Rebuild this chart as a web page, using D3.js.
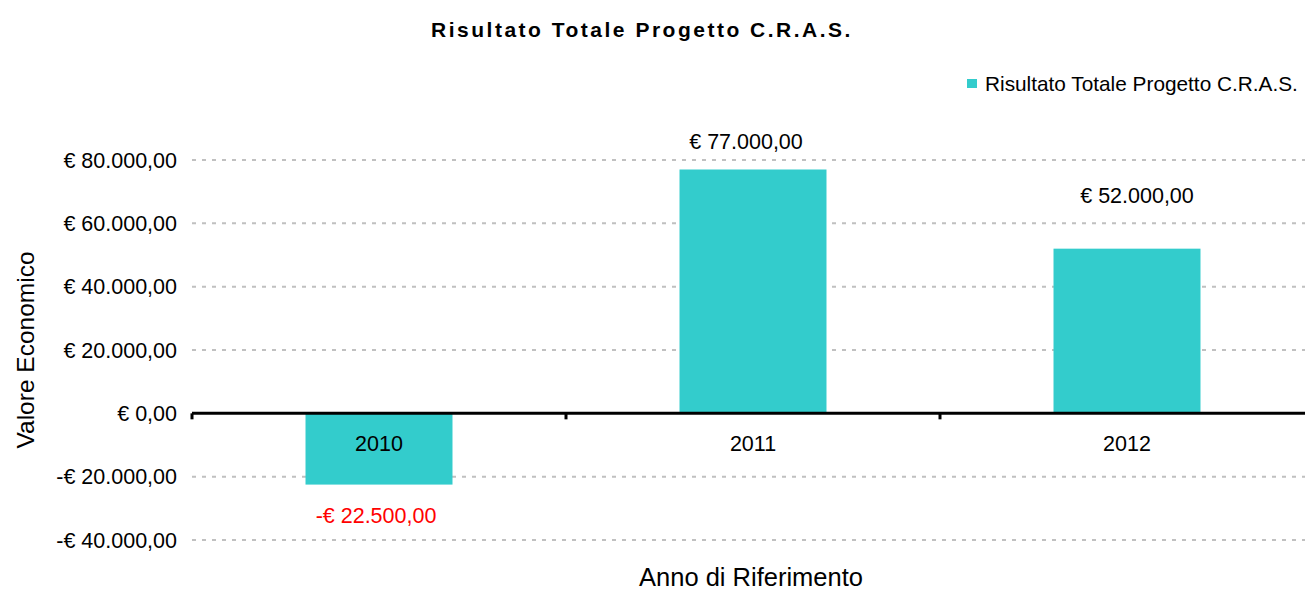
<!DOCTYPE html>
<html>
<head>
<meta charset="utf-8">
<script src="https://cdn.jsdelivr.net/npm/d3@7"></script>
<style>
  body { margin: 0; background: #fff; }
  svg { display: block; font-family: "Liberation Sans", Arial, sans-serif; }
</style>
</head>
<body>
<div id="chart"></div>
<script>
var years = ["2010", "2011", "2012"];
var risultato = [-22500, 77000, 52000];
var yTicks = [-40000, -20000, 0, 20000, 40000, 60000, 80000];

var width = 1305, height = 591;
var plotLeft = 192, plotRight = 1314;
var fill = "#33cccc";
var fontSize = 21.5;

var svg = d3.select("#chart").append("svg")
  .attr("width", width)
  .attr("height", height);

var x = d3.scaleBand()
  .domain(years)
  .range([plotLeft, plotRight])
  .padding(0);
var barW = x.bandwidth() * 0.393;

var y = d3.scaleLinear()
  .domain([-40000, 80000])
  .range([540, 160]);

// euro format, italian style
var it = d3.formatLocale({decimal: ",", thousands: ".", grouping: [3], currency: ["€ ", ""]});
var fmt = it.format(",.2f");
function euro(v) {
  return (v < 0 ? "-€ " : "€ ") + fmt(Math.abs(v));
}

// grid lines
svg.append("g").selectAll("line")
  .data(yTicks.filter(t => t != 0))
  .enter().append("line")
    .attr("x1", plotLeft)
    .attr("x2", plotRight)
    .attr("y1", d => y(d))
    .attr("y2", d => y(d))
    .attr("stroke", "#c0c0c0")
    .attr("stroke-width", 2)
    .attr("stroke-dasharray", "4,6");

// y tick labels
svg.append("g").selectAll("text")
  .data(yTicks)
  .enter().append("text")
    .attr("x", 177)
    .attr("y", d => y(d))
    .attr("dy", "0.35em")
    .attr("text-anchor", "end")
    .attr("font-size", fontSize)
    .attr("fill", "#000")
    .text(d => euro(d));

// bars
svg.append("g").selectAll("rect")
  .data(years)
  .enter().append("rect")
    .attr("x", d => x(d) + (x.bandwidth() - barW) / 2)
    .attr("y", (d, i) => y(Math.max(0, risultato[i])))
    .attr("width", barW)
    .attr("height", (d, i) => Math.abs(y(risultato[i]) - y(0)))
    .attr("fill", fill);

// x axis at zero
var xAxis = svg.append("g")
  .attr("transform", `translate(0, ${y(0)})`)
  .call(d3.axisBottom(x).tickSize(0).tickFormat(""));
xAxis.select(".domain").remove();
xAxis.append("line")
  .attr("x1", plotLeft).attr("x2", plotRight)
  .attr("stroke", "#000").attr("stroke-width", 3);
xAxis.selectAll(".sep")
  .data(years)
  .enter().append("line")
    .attr("class", "sep")
    .attr("x1", d => x(d)).attr("x2", d => x(d))
    .attr("y1", 0).attr("y2", 6)
    .attr("stroke", "#000").attr("stroke-width", 3);

// category labels
svg.append("g").selectAll("text")
  .data(years)
  .enter().append("text")
    .attr("x", d => x(d) + x.bandwidth() / 2)
    .attr("y", y(0) + 30)
    .attr("dy", "0.35em")
    .attr("text-anchor", "middle")
    .attr("font-size", fontSize)
    .text(d => d);

// value labels (excel placed them by hand)
var nudge = [[-3, 31], [-7, -28], [10, -53]];
svg.append("g").selectAll("text")
  .data(years)
  .enter().append("text")
    .attr("x", (d, i) => x(d) + x.bandwidth() / 2 + nudge[i][0])
    .attr("y", (d, i) => y(risultato[i]) + nudge[i][1])
    .attr("dy", "0.35em")
    .attr("text-anchor", "middle")
    .attr("font-size", fontSize)
    .attr("fill", (d, i) => risultato[i] < 0 ? "#ff0000" : "#000")
    .text((d, i) => euro(risultato[i]));

// title
svg.append("text")
  .attr("x", 642)
  .attr("y", 30)
  .attr("dy", "0.35em")
  .attr("text-anchor", "middle")
  .attr("font-size", 21)
  .attr("font-weight", "bold")
  .attr("letter-spacing", 2.5)
  .text("Risultato Totale Progetto C.R.A.S.");

// legend
var legend = svg.append("g").attr("transform", "translate(967, 79)");
legend.append("rect")
  .attr("width", 10).attr("height", 9)
  .attr("fill", fill);
legend.append("text")
  .attr("x", 18)
  .attr("y", 5)
  .attr("dy", "0.35em")
  .attr("font-size", 20.8)
  .text("Risultato Totale Progetto C.R.A.S.");

// axis titles
svg.append("text")
  .attr("transform", "translate(25, 350) rotate(-90)")
  .attr("dy", "0.35em")
  .attr("text-anchor", "middle")
  .attr("font-size", 24.5)
  .text("Valore Economico");

svg.append("text")
  .attr("x", 751)
  .attr("y", 586)
  .attr("text-anchor", "middle")
  .attr("font-size", 25.5)
  .text("Anno di Riferimento");
</script>
</body>
</html>
